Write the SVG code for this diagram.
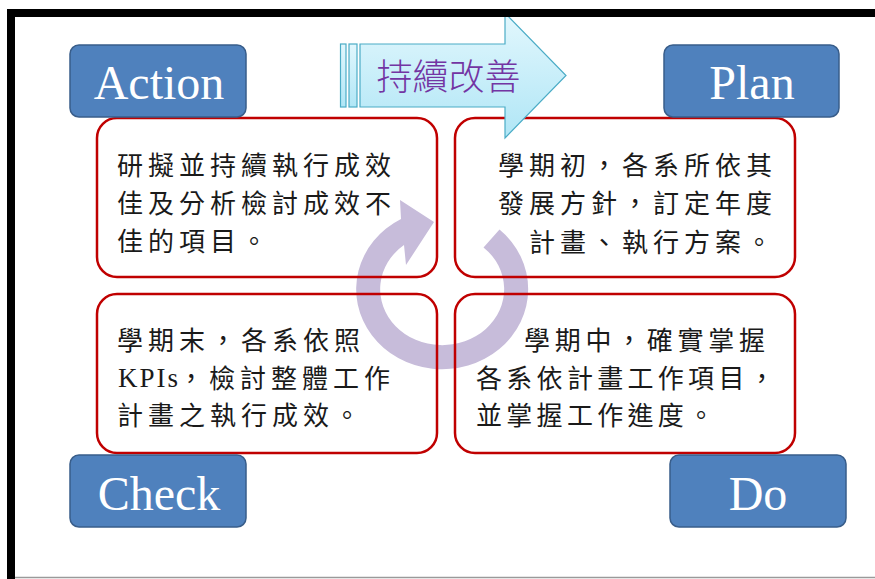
<svg xmlns="http://www.w3.org/2000/svg" width="875" height="579" viewBox="0 0 875 579">
  <style>
    .blue { fill: #4F81BD; stroke: #385D8A; stroke-width: 1.5; }
    .red { fill: none; stroke: #C00000; stroke-width: 2.5; }
    .lbl { font-family: "Liberation Serif", "Times New Roman", serif; font-size: 48px; fill: #FFFFFF; text-anchor: middle; }
    .body { font-family: "Noto Sans CJK TC", "Noto Sans CJK SC", sans-serif; font-size: 26px; fill: #1A1A1A; letter-spacing: 5px; }
    .title { font-family: "Noto Sans CJK TC", "Noto Sans CJK SC", sans-serif; font-size: 36px; font-weight: 300; fill: #7335A3; text-anchor: middle; }
    .arw { fill: url(#cyan); stroke: #4BACC6; stroke-width: 1.2; }
  </style>
  <defs>
    <linearGradient id="cyan" x1="0" y1="0" x2="0" y2="1">
      <stop offset="0" stop-color="#E2F7FD"/>
      <stop offset="1" stop-color="#B0E6F6"/>
    </linearGradient>
  </defs>
  <rect x="0" y="0" width="875" height="579" fill="#FFFFFF"/>

  <g id="cycle">
    <path d="M 499.5,229.6 A 86 80 0 1 1 401,219 L 400,200 L 434,222 L 406,265 L 404,245 A 62 56 0 1 0 483.5,247.4 Z" fill="#C7BCDA"/>
  </g>

  <g id="box-action-text">
    <rect class="red" x="97" y="118" width="340" height="159" rx="20"/>
    <text class="body" x="117" y="175">研擬並持續執行成效</text>
    <text class="body" x="117" y="213">佳及分析檢討成效不</text>
    <text class="body" x="117" y="250.5">佳的項目。</text>
  </g>
  <g id="box-plan-text">
    <rect class="red" x="455" y="118" width="340" height="159" rx="20"/>
    <text class="body" x="498" y="175">學期初，各系所依其</text>
    <text class="body" x="498" y="213">發展方針，訂定年度</text>
    <text class="body" x="529" y="251.5">計畫、執行方案。</text>
  </g>
  <g id="box-check-text">
    <rect class="red" x="97" y="294" width="340" height="159" rx="20"/>
    <text class="body" x="117" y="350">學期末，各系依照</text>
    <text x="118" y="387" font-family="Liberation Serif, Times New Roman, serif" font-size="27" fill="#1A1A1A" letter-spacing="2">KPIs</text>
    <text class="body" x="178" y="388">，檢討整體工作</text>
    <text class="body" x="117" y="425">計畫之執行成效。</text>
  </g>
  <g id="box-do-text">
    <rect class="red" x="455" y="294" width="340" height="159" rx="20"/>
    <text class="body" x="524" y="350" style="letter-spacing:4.7px">學期中，確實掌握</text>
    <text class="body" x="476" y="388" style="letter-spacing:4.3px">各系依計畫工作項目，</text>
    <text class="body" x="476" y="425" style="letter-spacing:4.3px">並掌握工作進度。</text>
  </g>

  <g id="action">
    <rect class="blue" x="70" y="45" width="176" height="72" rx="9"/>
    <text class="lbl" x="159" y="99">Action</text>
  </g>
  <g id="plan">
    <rect class="blue" x="664" y="45" width="175" height="72" rx="9"/>
    <text class="lbl" x="752" y="99">Plan</text>
  </g>
  <g id="check">
    <rect class="blue" x="70" y="455" width="176" height="72" rx="9"/>
    <text class="lbl" x="159" y="510">Check</text>
  </g>
  <g id="do">
    <rect class="blue" x="670" y="455" width="176" height="72" rx="9"/>
    <text class="lbl" x="758" y="510">Do</text>
  </g>

  <g id="improve-arrow">
    <rect class="arw" x="340.5" y="44" width="5.5" height="63"/>
    <rect class="arw" x="349" y="44" width="8" height="63"/>
    <path class="arw" d="M 360,44 L 505,44 L 505,13 L 566,75.5 L 505,138 L 505,107 L 360,107 Z"/>
    <text class="title" x="448.5" y="90">持續改善</text>
  </g>

  <g id="frame">
    <path d="M 11,579 V 13 H 875" fill="none" stroke="#000000" stroke-width="8"/>
    <line x1="15" y1="577.5" x2="875" y2="577.5" stroke="#9A9A9A" stroke-width="1.5"/>
  </g>
</svg>
